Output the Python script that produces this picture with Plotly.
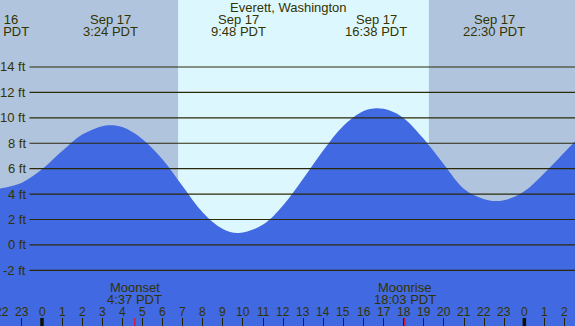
import plotly.graph_objects as go

W, H = 575, 326

location = "Everett, Washington"

# tide curve (hour of Sep 17, feet)
tide_hours = [-2.09, -1, 0, 1, 2, 3, 3.38, 4, 5, 6, 7, 8, 9, 9.8, 11, 12, 13,
              14, 15, 16, 16.65, 17.3, 18, 19, 20, 21, 22, 22.54, 23.1, 24, 25, 26, 26.52]
tide_ft = [4.43, 4.9, 5.95, 7.38, 8.68, 9.34, 9.42, 9.27, 8.32, 6.72, 4.62, 2.55, 1.25, 0.94,
           1.6, 3.12, 5.22, 7.45, 9.38, 10.54, 10.76, 10.58, 9.97, 8.33, 6.33, 4.4,
           3.6, 3.46, 3.55, 4.22, 5.66, 7.3, 8.13]

# high / low labels
extreme_hours = [-2.21, 3.40, 9.80, 16.633, 22.50]
extreme_dates = ["Sep 16", "Sep 17", "Sep 17", "Sep 17", "Sep 17"]
extreme_times = ["21:47 PDT", "3:24 PDT", "9:48 PDT", "16:38 PDT", "22:30 PDT"]

# sun
sunrise_h = 6.77
sunset_h = 19.25

# moon
moon_hours = [4.617, 18.05]
moon_names = ["Moonset", "Moonrise"]
moon_times = ["4:37 PDT", "18:03 PDT"]

# axes
x_range = [-2.09, 26.52]
y_range = [-6.38, 19.27]
hour_ticks = list(range(-2, 27))
hour_labels = [str(h % 24) for h in hour_ticks]
midnights = [0, 24]
ft_levels = list(range(-2, 16, 2))
ft_labels = [f"{v} ft" for v in ft_levels]

TXT = "#333300"
FONT = "Liberation Sans, Arial, sans-serif"

fig = go.Figure()
# baseline for the fill
fig.add_trace(go.Scatter(x=[x_range[0], x_range[1]], y=[y_range[0] - 5, y_range[0] - 5],
                         mode="lines", line=dict(width=0), hoverinfo="skip", showlegend=False))
fig.add_trace(go.Scatter(x=tide_hours, y=tide_ft, mode="lines",
                         line=dict(color="#4169E1", width=0, shape="spline", smoothing=1.0),
                         fill="tonexty", fillcolor="#4169E1", hoverinfo="skip", showlegend=False))

shapes = []
# daylight band
shapes.append(dict(type="rect", xref="x", yref="paper", x0=sunrise_h, x1=sunset_h, y0=0, y1=1,
                   fillcolor="#DDF7FF", line=dict(width=0), layer="below"))
# horizontal level lines
for v in ft_levels:
    shapes.append(dict(type="line", xref="paper", yref="y", x0=29.5 / W, x1=1, y0=v, y1=v,
                       line=dict(color="#2a2a08", width=1.2), layer="above"))
# midnight ticks (thick)
for m in midnights:
    shapes.append(dict(type="line", xref="x", yref="paper", x0=m, x1=m, y0=0, y1=8 / H,
                       line=dict(color="#111100", width=3.5), layer="above"))
# moon ticks (red)
for mh in moon_hours:
    shapes.append(dict(type="line", xref="x", yref="paper", x0=mh, x1=mh, y0=0, y1=8 / H,
                       line=dict(color="#FF0000", width=1), layer="above"))

ann = []
def py(px):
    return (H - px) / H

ann.append(dict(text=location, xref="paper", yref="paper", x=288 / W, y=py(7.5),
                showarrow=False, font=dict(size=13, color=TXT, family=FONT),
                xanchor="center", yanchor="middle"))
for h, d, t in zip(extreme_hours, extreme_dates, extreme_times):
    xp = (h - x_range[0]) / (x_range[1] - x_range[0])
    ann.append(dict(text=d, xref="paper", yref="paper", x=xp, y=py(19.5), showarrow=False,
                    font=dict(size=13, color=TXT, family=FONT), xanchor="center", yanchor="middle"))
    ann.append(dict(text=t, xref="paper", yref="paper", x=xp, y=py(32), showarrow=False,
                    font=dict(size=13, color=TXT, family=FONT), xanchor="center", yanchor="middle"))
for mh, n, t in zip(moon_hours, moon_names, moon_times):
    ann.append(dict(text=n, xref="x", yref="paper", x=mh, y=py(287.5), showarrow=False,
                    font=dict(size=13, color=TXT, family=FONT), xanchor="center", yanchor="middle"))
    ann.append(dict(text=t, xref="x", yref="paper", x=mh, y=py(299.5), showarrow=False,
                    font=dict(size=13, color=TXT, family=FONT), xanchor="center", yanchor="middle"))
for h, lab in zip(hour_ticks, hour_labels):
    ann.append(dict(text=lab, xref="x", yref="paper", x=h, y=py(311.5), showarrow=False,
                    font=dict(size=12, color=TXT, family=FONT), xanchor="center", yanchor="middle"))
for v, lab in zip(ft_levels, ft_labels):
    ann.append(dict(text=lab, xref="paper", yref="y", x=27.5 / W, y=v, showarrow=False,
                    font=dict(size=13, color=TXT, family=FONT), xanchor="right", yanchor="middle"))

fig.update_layout(
    width=W, height=H, margin=dict(l=0, r=0, t=0, b=0),
    paper_bgcolor="#B0C4DE", plot_bgcolor="#B0C4DE",
    shapes=shapes, annotations=ann, showlegend=False,
    xaxis=dict(range=x_range, showgrid=False, zeroline=False, showline=False,
               tickmode="array", tickvals=hour_ticks[1:], ticks="inside", ticklen=8,
               tickwidth=1, tickcolor="#222200", showticklabels=False, fixedrange=True),
    yaxis=dict(range=y_range, showgrid=False, zeroline=False, showline=False,
               showticklabels=False, ticks="", fixedrange=True),
)

fig.write_html("out.html", config={"displayModeBar": False},
               post_script="document.body.style.margin='0';document.body.style.overflow='hidden';")
